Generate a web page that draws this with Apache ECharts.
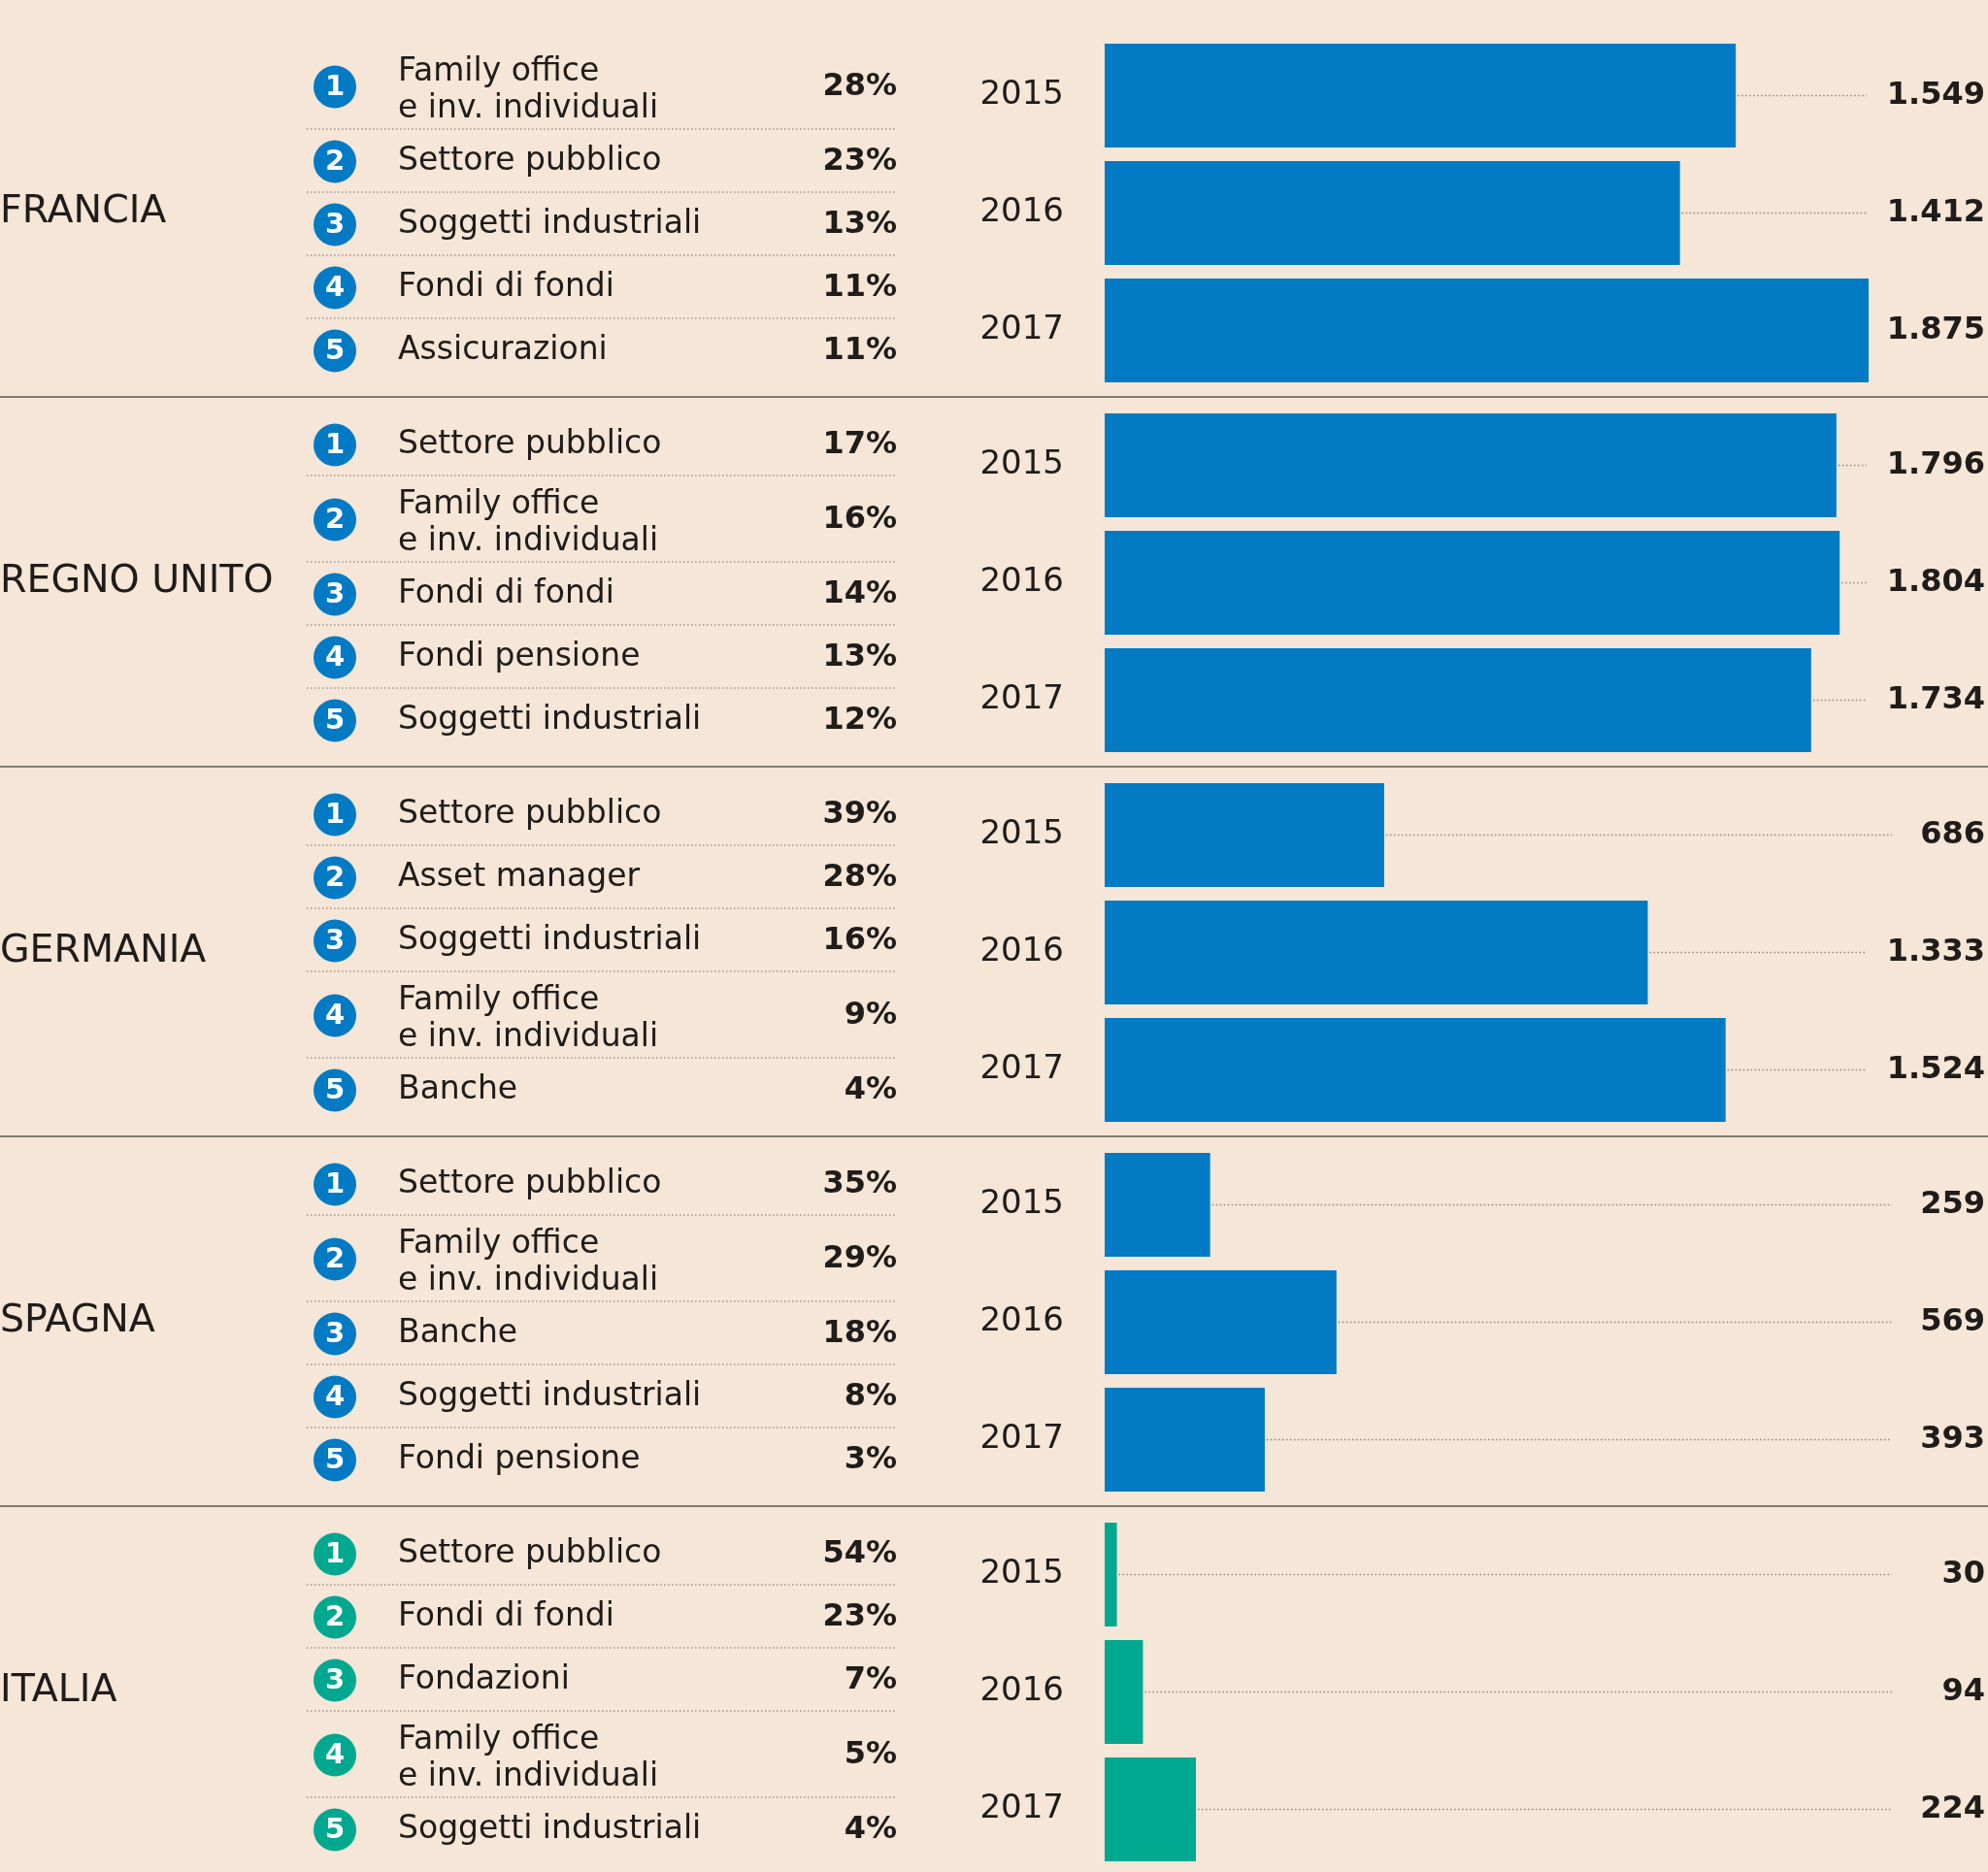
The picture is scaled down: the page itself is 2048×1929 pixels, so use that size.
<!DOCTYPE html>
<html lang="it">
<head>
<meta charset="UTF-8">
<title>Investitori per paese</title>
<script src="https://cdn.jsdelivr.net/npm/echarts@6/dist/echarts.min.js"></script>
<style>
  html, body { margin: 0; padding: 0; background: #F5E6D7; }
  #chart { width: 2048px; height: 1929px; }
</style>
</head>
<body>
<div id="chart"></div>
<script>
// --- dati ---
var countries = ['FRANCIA', 'REGNO UNITO', 'GERMANIA', 'SPAGNA', 'ITALIA'];
var years = ['2015', '2016', '2017'];

var valFrancia = [1549, 1412, 1875];
var valRegnoUnito = [1796, 1804, 1734];
var valGermania = [686, 1333, 1524];
var valSpagna = [259, 569, 393];
var valItalia = [30, 94, 224];

var invFrancia = ['Family office\ne inv. individuali', 'Settore pubblico', 'Soggetti industriali', 'Fondi di fondi', 'Assicurazioni'];
var pctFrancia = [28, 23, 13, 11, 11];
var invRegnoUnito = ['Settore pubblico', 'Family office\ne inv. individuali', 'Fondi di fondi', 'Fondi pensione', 'Soggetti industriali'];
var pctRegnoUnito = [17, 16, 14, 13, 12];
var invGermania = ['Settore pubblico', 'Asset manager', 'Soggetti industriali', 'Family office\ne inv. individuali', 'Banche'];
var pctGermania = [39, 28, 16, 9, 4];
var invSpagna = ['Settore pubblico', 'Family office\ne inv. individuali', 'Banche', 'Soggetti industriali', 'Fondi pensione'];
var pctSpagna = [35, 29, 18, 8, 3];
var invItalia = ['Settore pubblico', 'Fondi di fondi', 'Fondazioni', 'Family office\ne inv. individuali', 'Soggetti industriali'];
var pctItalia = [54, 23, 7, 5, 4];

var allValues = [valFrancia, valRegnoUnito, valGermania, valSpagna, valItalia];
var allInv = [invFrancia, invRegnoUnito, invGermania, invSpagna, invItalia];
var allPct = [pctFrancia, pctRegnoUnito, pctGermania, pctSpagna, pctItalia];

// --- stile ---
var BLUE = '#037AC4', GREEN = '#00A88F', TXT = '#1f1c1a';
var FONT = '"DejaVu Sans", sans-serif';
var W = 2048, SEC_TOP = 28, SEC_H = 381;
var BAR_LEFT = 1138, BAR_W = 787, X_MAX = 1875;
var LEADER_END = 1949, LABEL_RIGHT = 2045;

var measureCtx = document.createElement('canvas').getContext('2d');
measureCtx.font = 'bold 32px ' + FONT;

function fmt(n) {
    return String(n).replace(/\B(?=(\d{3})+(?!\d))/g, '.');
}

var chart = echarts.init(document.getElementById('chart'));

var grids = [], xAxes = [], yAxes = [], series = [], graphics = [];

countries.forEach(function (name, i) {
    var top = SEC_TOP + i * SEC_H;
    var color = i === 4 ? GREEN : BLUE;

    // linea di separazione tra paesi
    if (i > 0) {
        graphics.push({
            type: 'line', silent: true,
            shape: { x1: 0, y1: top, x2: W, y2: top },
            style: { stroke: '#847b72', lineWidth: 2 }
        });
    }
    // nome paese
    graphics.push({
        type: 'text', silent: true,
        style: { text: name, x: 0, y: top + SEC_H / 2, fill: TXT, font: '39.5px ' + FONT, align: 'left', verticalAlign: 'middle' }
    });

    // tabella investitori
    var y = top + 16;
    allInv[i].forEach(function (lab, k) {
        var twoLines = lab.indexOf('\n') >= 0;
        var h = twoLines ? 89 : 65;
        var cy = y + h / 2 + 1;
        graphics.push({
            type: 'circle', silent: true,
            shape: { cx: 345, cy: cy, r: 22 },
            style: { fill: color }
        });
        graphics.push({
            type: 'text', silent: true,
            style: { text: String(k + 1), x: 345, y: cy + 1, fill: '#fff', font: 'bold 29px ' + FONT, align: 'center', verticalAlign: 'middle' }
        });
        graphics.push({
            type: 'text', silent: true,
            style: { text: lab, x: 410, y: twoLines ? cy + 4 : cy, fill: TXT, font: '33px ' + FONT, lineHeight: 38, align: 'left', verticalAlign: 'middle' }
        });
        graphics.push({
            type: 'text', silent: true,
            style: { text: allPct[i][k] + '%', x: 924, y: cy, fill: TXT, font: 'bold 32px ' + FONT, align: 'right', verticalAlign: 'middle' }
        });
        if (k < allInv[i].length - 1) {
            graphics.push({
                type: 'line', silent: true,
                shape: { x1: 316, y1: y + h, x2: 922, y2: y + h },
                style: { stroke: '#9c958d', lineWidth: 1.5, lineDash: [1.5, 2.5] }
            });
        }
        y += h;
    });

    // barre
    grids.push({ left: BAR_LEFT, top: top + 10, width: BAR_W, height: 363 });
    xAxes.push({ type: 'value', gridIndex: i, min: 0, max: X_MAX, show: false });
    yAxes.push({
        type: 'category', gridIndex: i, data: years, inverse: true,
        axisLine: { show: false }, axisTick: { show: false }, splitLine: { show: false },
        axisLabel: { margin: 42, color: TXT, fontSize: 34, fontFamily: FONT }
    });
    series.push({
        type: 'bar', xAxisIndex: i, yAxisIndex: i,
        data: allValues[i], barWidth: 107,
        itemStyle: { color: color }, silent: true
    });
    series.push({
        type: 'custom', xAxisIndex: i, yAxisIndex: i, clip: false, silent: true, z: 3,
        data: allValues[i].map(function (v, j) { return [v, j]; }),
        encode: { x: 0, y: 1 },
        renderItem: function (params, api) {
            var v = api.value(0);
            var p = api.coord([v, api.value(1)]);
            var txt = fmt(v);
            var tw = measureCtx.measureText(txt).width;
            var end = Math.min(LEADER_END, LABEL_RIGHT - tw - 21);
            var children = [];
            if (end - p[0] > 4) {
                children.push({
                    type: 'line',
                    shape: { x1: p[0] + 2, y1: p[1], x2: end, y2: p[1] },
                    style: { stroke: '#8f8880', lineWidth: 1.5, lineDash: [1.5, 2.5] }
                });
            }
            children.push({
                type: 'text',
                style: { text: txt, x: LABEL_RIGHT, y: p[1], fill: TXT, font: 'bold 32px ' + FONT, align: 'right', verticalAlign: 'middle' }
            });
            return { type: 'group', children: children };
        }
    });
});

var option = {
    backgroundColor: '#F5E6D7',
    animation: false,
    grid: grids,
    xAxis: xAxes,
    yAxis: yAxes,
    series: series,
    graphic: graphics
};

chart.setOption(option);
</script>
</body>
</html>
